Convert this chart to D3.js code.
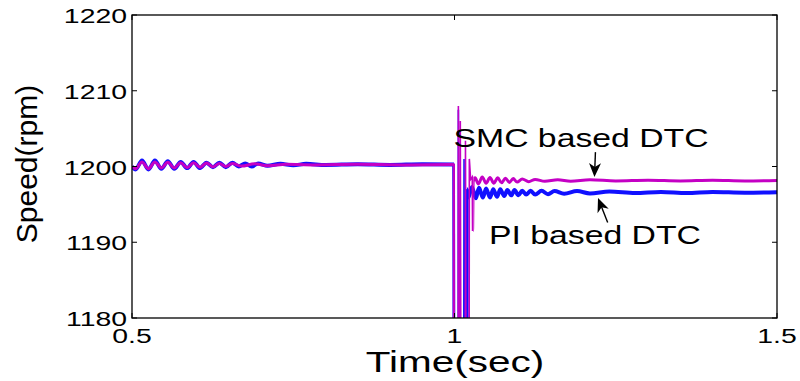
<!DOCTYPE html>
<html><head><meta charset="utf-8">
<script src="https://cdn.jsdelivr.net/npm/d3@7"></script>
<style>body{margin:0;background:#fff}svg{display:block}text{font-family:"Liberation Sans",Arial,sans-serif;fill:#000}</style>
</head><body><svg id="c" width="800" height="381"></svg>
<script>
// ---- data ----
const xTicks = [0.5, 1, 1.5];
const xTickLabels = ["0.5", "1", "1.5"];
const yTicks = [1180, 1190, 1200, 1210, 1220];
const yTickLabels = ["1180", "1190", "1200", "1210", "1220"];

// PI based DTC (blue)
const piTime = [0.500,0.5055,0.5155,0.5255,0.5355,0.5455,0.5555,0.5655,0.5755,0.5855,0.5955,0.6055,0.6155,0.6255,0.6355,0.6455,0.6555,0.6655,0.6755,0.6855,0.6955,0.71,0.73,0.75,0.77,0.80,0.85,0.90,0.95,0.9995,
  1.0005,1.0055,1.006,1.0075,1.014,1.0148,1.0158,1.0185,1.019,
  1.0215,1.027,1.033,1.038,1.044,1.049,1.055,1.060,1.066,1.071,1.077,1.082,1.088,1.093,1.099,1.105,1.111,1.118,1.125,1.135,1.145,1.155,1.17,1.19,1.21,1.24,1.28,1.32,1.36,1.40,1.45,1.50];
const piSpeed = [1200.0,1199.6,1200.8,1199.6,1200.8,1199.7,1200.7,1199.7,1200.6,1199.8,1200.6,1199.8,1200.5,1199.9,1200.5,1199.9,1200.5,1200.0,1200.4,1200.0,1200.4,1200.1,1200.35,1200.15,1200.35,1200.2,1200.3,1200.2,1200.3,1200.25,
  1150,1150,1207.5,1150,1150,1201,1150,1150,1197.0,
  1195.9,1197.3,1195.8,1197.2,1195.9,1197.1,1195.9,1197.0,1196.0,1197.0,1196.1,1196.9,1196.2,1196.9,1196.2,1196.8,1196.3,1196.8,1196.3,1196.8,1196.35,1196.75,1196.4,1196.75,1196.45,1196.7,1196.5,1196.65,1196.5,1196.65,1196.55,1196.6];

// SMC based DTC (magenta)
const smcTime = [0.500,0.5055,0.5155,0.5255,0.5355,0.5455,0.5555,0.5655,0.5755,0.5855,0.5955,0.6055,0.6155,0.6255,0.6355,0.6455,0.6555,0.67,0.69,0.71,0.74,0.78,0.85,0.92,0.9995,
  1.000,1.0055,1.006,1.0075,1.0085,1.009,1.0105,1.0165,1.017,1.0185,1.0225,1.023,1.025,1.0275,1.028,1.029,
  1.032,1.037,1.043,1.049,1.055,1.061,1.067,1.073,1.079,1.085,1.091,1.097,1.105,1.115,1.125,1.14,1.16,1.18,1.21,1.25,1.30,1.35,1.40,1.45,1.50];
const smcSpeed = [1200.0,1199.7,1200.6,1199.7,1200.6,1199.8,1200.55,1199.8,1200.5,1199.85,1200.5,1199.9,1200.45,1199.95,1200.4,1200.0,1200.4,1200.05,1200.35,1200.1,1200.3,1200.2,1200.3,1200.2,1200.25,
  1150,1150,1208,1150,1150,1206,1150,1150,1203.4,1150,1150,1201,1198.3,1198.6,1191.5,1198.0,
  1198.5,1197.7,1198.6,1197.8,1198.55,1197.8,1198.5,1197.85,1198.45,1197.9,1198.4,1197.95,1198.35,1198.0,1198.3,1198.05,1198.25,1198.05,1198.25,1198.1,1198.2,1198.1,1198.2,1198.1,1198.15];

const annotations = [
  {label:"SMC based DTC", tx:0.9985, ty:1202.57, ax0:1.2185, ay0:1201.9, ax1:1.2170, ay1:1198.6},
  {label:"PI based DTC",  tx:1.0535, ty:1189.8, ax0:1.2375, ay0:1192.6, ax1:1.2225, ay1:1195.85}
];

// ---- layout ----
const svg = d3.select("#c");
const L = 132, R = 777, T = 15, B = 318;
const x = d3.scaleLinear().domain([0.5, 1.5]).range([L, R]);
const y = d3.scaleLinear().domain([1180, 1220]).range([B, T]);
const SX = 1.42;

const defs = svg.append("defs");
defs.append("clipPath").attr("id","plot")
  .append("rect").attr("x",L).attr("y",T).attr("width",R-L).attr("height",B-T);
function clipFor(id, t0, t1, thin){
  const cp = defs.append("clipPath").attr("id", id);
  if (thin) {
    cp.append("rect").attr("x", x(t0)).attr("y", T).attr("width", x(t1)-x(t0)).attr("height", B-T);
  } else {
    cp.append("rect").attr("x", L).attr("y", T).attr("width", x(t0)-L).attr("height", B-T);
    cp.append("rect").attr("x", x(t1)).attr("y", T).attr("width", R-x(t1)).attr("height", B-T);
  }
}
clipFor("piThin", 0.9993, 1.0192, true);
clipFor("piThick", 0.9993, 1.0192, false);
clipFor("smcThin", 0.9993, 1.0292, true);
clipFor("smcThick", 0.9993, 1.0292, false);

const lineSmooth = d3.line().curve(d3.curveMonotoneX).x(d => x(d[0])).y(d => y(d[1]));
const lineSharp = d3.line().x(d => x(d[0])).y(d => y(d[1]));
const piData = piTime.map((t,i) => [t, piSpeed[i]]);
const smcData = smcTime.map((t,i) => [t, smcSpeed[i]]);

const g = svg.append("g").attr("clip-path","url(#plot)");
function drawSeries(data, color, thickW, thinId, thickId){
  g.append("g").attr("clip-path",`url(#${thickId})`).append("path").datum(data)
    .attr("d", lineSmooth).attr("fill","none").attr("stroke",color).attr("stroke-width",thickW).attr("stroke-linejoin","round");
  g.append("g").attr("clip-path",`url(#${thinId})`).append("path").datum(data)
    .attr("d", lineSharp).attr("fill","none").attr("stroke",color).attr("stroke-width",1.6);
}
drawSeries(piData, "#1010ff", 4, "piThin", "piThick");
drawSeries(smcData, "#c400c4", 3, "smcThin", "smcThick");

// ---- axes box & ticks ----
svg.append("rect").attr("x",L).attr("y",T).attr("width",R-L).attr("height",B-T)
  .attr("fill","none").attr("stroke","#000").attr("stroke-width",1.3);
const tk = 5;
const ax = svg.append("g").attr("stroke","#000").attr("stroke-width",1);
yTicks.forEach(v => {
  ax.append("line").attr("x1",L).attr("x2",L+tk).attr("y1",y(v)).attr("y2",y(v));
  ax.append("line").attr("x1",R).attr("x2",R-tk).attr("y1",y(v)).attr("y2",y(v));
});
xTicks.forEach(v => {
  ax.append("line").attr("x1",x(v)).attr("x2",x(v)).attr("y1",B).attr("y2",B-tk);
  ax.append("line").attr("x1",x(v)).attr("x2",x(v)).attr("y1",T).attr("y2",T+tk);
});
yTicks.forEach((v,i) => {
  svg.append("text").attr("transform",`translate(127,${y(v)+8}) scale(${SX},1)`)
    .attr("text-anchor","end").attr("font-size",20).text(yTickLabels[i]);
});
xTicks.forEach((v,i) => {
  svg.append("text").attr("transform",`translate(${x(v)},343) scale(${SX},1)`)
    .attr("text-anchor","middle").attr("font-size",20).text(xTickLabels[i]);
});

// axis labels
svg.append("text").attr("transform","translate(455,372) scale(1.35,1)")
  .attr("text-anchor","middle").attr("font-size",30).text("Time(sec)");
svg.append("text").attr("transform","translate(37,164) rotate(-90)")
  .attr("text-anchor","middle").attr("font-size",30).text("Speed(rpm)");

// annotations: text + arrow (shaft + filled head)
annotations.forEach(a => {
  svg.append("text").attr("transform",`translate(${x(a.tx)},${y(a.ty)}) scale(1.35,1)`)
    .attr("font-size",25).text(a.label);
  const x0 = x(a.ax0), y0 = y(a.ay0), x1 = x(a.ax1), y1 = y(a.ay1);
  const ang = Math.atan2(y1 - y0, x1 - x0) * 180 / Math.PI;
  svg.append("line").attr("x1",x0).attr("y1",y0).attr("x2",x1 - 6*Math.cos(ang*Math.PI/180)).attr("y2",y1 - 6*Math.sin(ang*Math.PI/180))
    .attr("stroke","#000").attr("stroke-width",1.4);
  svg.append("path").attr("transform",`translate(${x1},${y1}) rotate(${ang})`)
    .attr("d","M0,0 L-14,-6 L-10,0 L-14,6 Z").attr("fill","#000");
});
</script></body></html>
